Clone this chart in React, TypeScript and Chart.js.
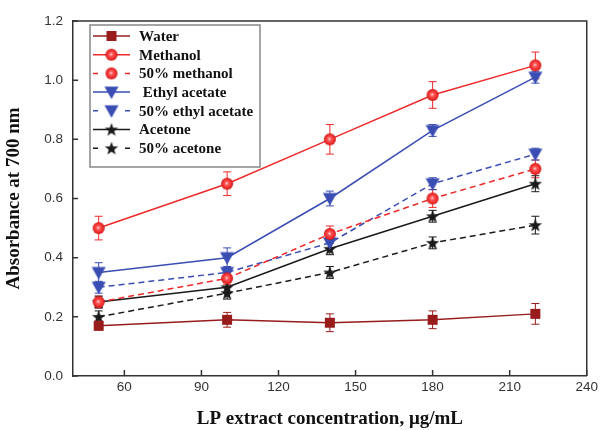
import React, { useEffect, useRef } from 'react';
import { Chart, registerables } from 'chart.js';
Chart.register(...registerables);

const concentrations = [50, 100, 140, 180, 220];
const xTickValues = [60, 90, 120, 150, 180, 210, 240];
const yTickValues = [0, 0.2, 0.4, 0.6, 0.8, 1.0, 1.2];
const seriesNames = ['Water', 'Methanol', '50% methanol', ' Ethyl acetate', '50% ethyl acetate', 'Acetone', '50% acetone'];

const water = [0.17, 0.19, 0.18, 0.19, 0.21];
const waterErr = [0.015, 0.025, 0.03, 0.03, 0.035];
const methanol = [0.50, 0.65, 0.80, 0.95, 1.05];
const methanolErr = [0.04, 0.04, 0.05, 0.045, 0.045];
const methanol50 = [0.25, 0.33, 0.48, 0.60, 0.70];
const methanol50Err = [0.02, 0.02, 0.027, 0.03, 0.03];
const ethylAcetate = [0.35, 0.40, 0.60, 0.83, 1.01];
const ethylAcetateErr = [0.033, 0.033, 0.025, 0.02, 0.02];
const ethylAcetate50 = [0.30, 0.35, 0.45, 0.65, 0.75];
const ethylAcetate50Err = [0.02, 0.02, 0.02, 0.02, 0.02];
const acetone = [0.25, 0.30, 0.43, 0.54, 0.65];
const acetoneErr = [0.02, 0.02, 0.02, 0.02, 0.027];
const acetone50 = [0.20, 0.28, 0.35, 0.45, 0.51];
const acetone50Err = [0.02, 0.02, 0.02, 0.02, 0.03];

const seriesValues = [water, methanol, methanol50, ethylAcetate, ethylAcetate50, acetone, acetone50];
const seriesErrors = [waterErr, methanolErr, methanol50Err, ethylAcetateErr, ethylAcetate50Err, acetoneErr, acetone50Err];

const DARKRED = '#981c1c';
const RED = '#ee2a2a';
const BLUE = '#3a4db3';
const BLACK = '#1a1a1a';
const styles = [
  { color: DARKRED, dashed: false, marker: 'square' },
  { color: RED, dashed: false, marker: 'sphere' },
  { color: RED, dashed: true, marker: 'sphere' },
  { color: BLUE, dashed: false, marker: 'tri' },
  { color: BLUE, dashed: true, marker: 'tri' },
  { color: BLACK, dashed: false, marker: 'star' },
  { color: BLACK, dashed: true, marker: 'star' },
];

function makeMarker(type: string, color: string): HTMLCanvasElement {
  const s = 16;
  const c = document.createElement('canvas');
  c.width = s; c.height = s;
  const ctx = c.getContext('2d')!;
  const m = s / 2;
  if (type === 'square') {
    ctx.fillStyle = color;
    ctx.fillRect(m - 5, m - 5, 10, 10);
  } else if (type === 'sphere') {
    const g = ctx.createRadialGradient(m - 0.5, m - 0.5, 0, m, m, 6);
    g.addColorStop(0, '#ffe0e0');
    g.addColorStop(0.3, '#ff5a5a');
    g.addColorStop(0.75, color);
    g.addColorStop(1, '#c81818');
    ctx.fillStyle = g;
    ctx.beginPath(); ctx.arc(m, m, 6, 0, Math.PI * 2); ctx.fill();
  } else if (type === 'tri') {
    ctx.fillStyle = color;
    ctx.beginPath();
    ctx.moveTo(m - 7, m - 5.5);
    ctx.lineTo(m + 7, m - 5.5);
    ctx.lineTo(m, m + 7);
    ctx.closePath(); ctx.fill();
  } else if (type === 'star') {
    ctx.fillStyle = color;
    ctx.beginPath();
    const R = 7, r = 2.9;
    for (let i = 0; i < 10; i++) {
      const a = -Math.PI / 2 + (i * Math.PI) / 5;
      const rr = i % 2 === 0 ? R : r;
      const x = m + rr * Math.cos(a), y = m + 0.5 + rr * Math.sin(a);
      if (i === 0) ctx.moveTo(x, y); else ctx.lineTo(x, y);
    }
    ctx.closePath(); ctx.fill();
  }
  return c;
}

const framePlugin = {
  id: 'frameAndExtras',
  beforeDatasetsDraw(chart: any) {
    const ctx = chart.ctx;
    const xs = chart.scales.x, ys = chart.scales.y;
    ctx.save();
    chart.data.datasets.forEach((ds: any) => {
      const errs = ds.errors as number[];
      ctx.strokeStyle = ds.borderColor;
      ctx.lineWidth = 1;
      ctx.setLineDash([]);
      ds.data.forEach((p: any, i: number) => {
        const x = xs.getPixelForValue(p.x);
        const y1 = ys.getPixelForValue(p.y + errs[i]);
        const y2 = ys.getPixelForValue(p.y - errs[i]);
        ctx.beginPath();
        ctx.moveTo(x, y1); ctx.lineTo(x, y2);
        ctx.moveTo(x - 4, y1); ctx.lineTo(x + 4, y1);
        ctx.moveTo(x - 4, y2); ctx.lineTo(x + 4, y2);
        ctx.stroke();
      });
    });
    ctx.restore();
  },
  afterDraw(chart: any) {
    const ctx = chart.ctx;
    const a = chart.chartArea;
    const xs = chart.scales.x, ys = chart.scales.y;
    ctx.save();
    ctx.strokeStyle = '#333';
    ctx.lineWidth = 1.5;
    ctx.setLineDash([]);
    ctx.beginPath();
    ctx.moveTo(a.left, a.top); ctx.lineTo(a.right, a.top); ctx.lineTo(a.right, a.bottom);
    ctx.stroke();
    ctx.beginPath();
    yTickValues.forEach((v) => {
      const y = ys.getPixelForValue(v);
      ctx.moveTo(a.left, y); ctx.lineTo(a.left + 5, y);
    });
    xTickValues.forEach((v) => {
      const x = xs.getPixelForValue(v);
      ctx.moveTo(x, a.bottom); ctx.lineTo(x, a.bottom - 6);
    });
    ctx.stroke();

    // legend
    const lx = 90, ly = 25, lw = 170, lh = 142;
    ctx.fillStyle = '#fff';
    ctx.fillRect(lx, ly, lw, lh);
    ctx.strokeStyle = '#888';
    ctx.lineWidth = 1.5;
    ctx.strokeRect(lx, ly, lw, lh);
    chart.data.datasets.forEach((ds: any, i: number) => {
      const y = 36 + i * 18.7;
      ctx.strokeStyle = ds.borderColor;
      ctx.lineWidth = 1.5;
      ctx.beginPath();
      if (ds.borderDash && ds.borderDash.length) {
        ctx.moveTo(93, y); ctx.lineTo(98, y);
        ctx.moveTo(125, y); ctx.lineTo(130, y);
      } else {
        ctx.moveTo(93, y); ctx.lineTo(130, y);
      }
      ctx.stroke();
      const img = ds.pointStyle as HTMLCanvasElement;
      ctx.drawImage(img, 111.5 - img.width / 2, y - img.height / 2);
      ctx.fillStyle = '#111';
      ctx.font = 'bold 15px "Liberation Serif", "Times New Roman", serif';
      ctx.textAlign = 'left';
      ctx.textBaseline = 'middle';
      ctx.fillText(ds.label, 139, y + 1);
    });
    ctx.restore();
  },
};

export default function App() {
  const ref = useRef<HTMLCanvasElement>(null);
  useEffect(() => {
    const datasets = seriesNames.map((name, si) => {
      const st = styles[si];
      return {
        label: name,
        data: concentrations.map((x, i) => ({ x, y: seriesValues[si][i] })),
        errors: seriesErrors[si],
        borderColor: st.color,
        backgroundColor: st.color,
        borderWidth: 1.5,
        borderDash: st.dashed ? [6, 4] : [],
        pointStyle: makeMarker(st.marker, st.color),
        pointRadius: 8,
        tension: 0,
      };
    });
    const chart = new Chart(ref.current!, {
      type: 'line',
      data: { datasets } as any,
      options: {
        animation: false,
        responsive: true,
        maintainAspectRatio: false,
        layout: { padding: { top: 21, right: 13, left: 0, bottom: 0 } },
        plugins: { legend: { display: false }, tooltip: { enabled: false } },
        scales: {
          x: {
            type: 'linear',
            min: 40,
            max: 240,
            afterBuildTicks: (s: any) => { s.ticks = xTickValues.map((v) => ({ value: v })); },
            afterFit: (s: any) => { s.height = 54; },
            grid: { display: false, drawTicks: false },
            border: { display: true, color: '#333', width: 1.5 },
            ticks: {
              autoSkip: false, maxRotation: 0, padding: 3, color: '#333',
              font: { family: '"Liberation Sans", Arial, sans-serif', size: 13.5 },
            },
            title: {
              display: true,
              text: 'LP extract concentration, μg/mL',
              color: '#111',
              font: { family: '"Liberation Serif", "Times New Roman", serif', size: 19, weight: 'bold' },
              padding: { top: 6, bottom: 0 },
            },
          },
          y: {
            type: 'linear',
            min: 0,
            max: 1.2,
            afterBuildTicks: (s: any) => { s.ticks = yTickValues.map((v) => ({ value: v })); },
            afterFit: (s: any) => { s.width = 73; },
            grid: { display: false, drawTicks: false },
            border: { display: true, color: '#333', width: 1.5 },
            ticks: {
              padding: 10, color: '#333',
              font: { family: '"Liberation Sans", Arial, sans-serif', size: 13.5 },
              callback: (v: any) => Number(v).toFixed(1),
            },
            title: {
              display: true,
              text: 'Absorbance at 700 nm',
              color: '#111',
              font: { family: '"Liberation Serif", "Times New Roman", serif', size: 19, weight: 'bold' },
              padding: { top: 3, bottom: 0 },
            },
          },
        },
      },
      plugins: [framePlugin],
    } as any);
    return () => chart.destroy();
  }, []);
  return (
    <div style={{ position: 'fixed', left: 0, top: 0, width: 601, height: 430, background: '#fff' }}>
      <canvas ref={ref} />
    </div>
  );
}
